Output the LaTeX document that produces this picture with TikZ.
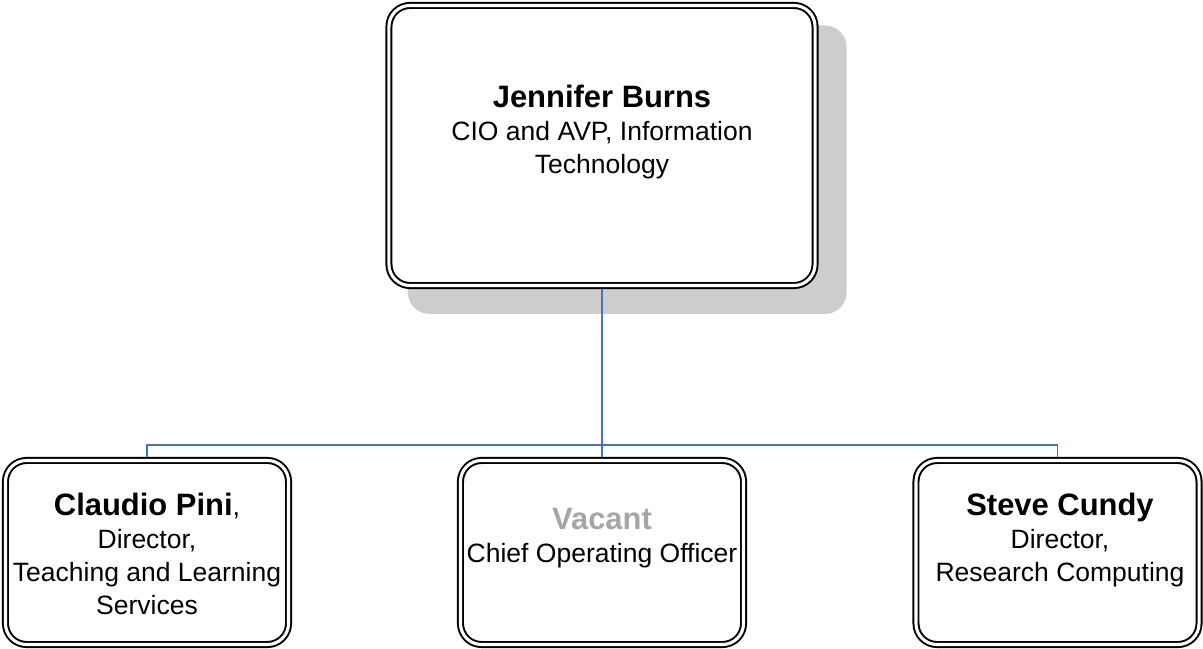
\documentclass[tikz,border=0pt]{standalone}
\usepackage{fontspec}
\setmainfont{Liberation Sans}
\usetikzlibrary{shadows}
\definecolor{linkblue}{HTML}{4472C4}
\definecolor{shadowgray}{HTML}{CDCDCD}
\definecolor{vacantgray}{HTML}{A6A6A6}
\newcommand\persname[1]{{\fontsize{22pt}{23.5pt}\selectfont\bfseries #1}}

\begin{document}
\begin{tikzpicture}[x=0.025cm, y=-0.025cm]
\useasboundingbox (0,0) rectangle (1203,649);

\tikzstyle{every node}=[rectangle, rounded corners=15pt, draw=black, line width=1.4pt, double=white, double distance=2.2pt, fill=white, outer sep=2.5pt, inner sep=0pt, minimum width=7.075cm, minimum height=4.6cm]
\draw (602,145.5) node[minimum width=10.65cm, minimum height=7cm,
        drop shadow={shadow xshift=0.6125cm, shadow yshift=-0.5875cm, shadow scale=1.03, fill=shadowgray, opacity=1}] (jburns) {};
\draw (147,552.5)    node (cpini) {}
      (602,552.5)    node (vacant) {}
      (1057.5,552.5) node (scundy) {};

\tikzstyle{every node}=[align=center, inner sep=0pt, anchor=north, font=\fontsize{18.85pt}{23.5pt}\selectfont]
\draw (602,84.4)   node (jburns-txt) {\persname{Jennifer Burns}\\CIO and AVP, Information\\Technology};
\draw (147,492.5)  node (cpini-txt) {\persname{Claudio Pini},\\Director,\\Teaching and Learning\\Services};
\draw (602,508)    node (vacant-txt) {\textcolor{vacantgray}{\persname{Vacant}}\\Chief Operating Officer};
\draw (1060,492.5) node (scundy-txt) {\persname{Steve Cundy}\\Director,\\Research Computing};

\coordinate (bus) at (602,445);
\tikzstyle{link}=[draw=linkblue, line width=1.1pt]
\draw [link] (jburns) -- (vacant);
\draw [link] (cpini) |- (bus) -| (scundy);

\end{tikzpicture}
\end{document}
